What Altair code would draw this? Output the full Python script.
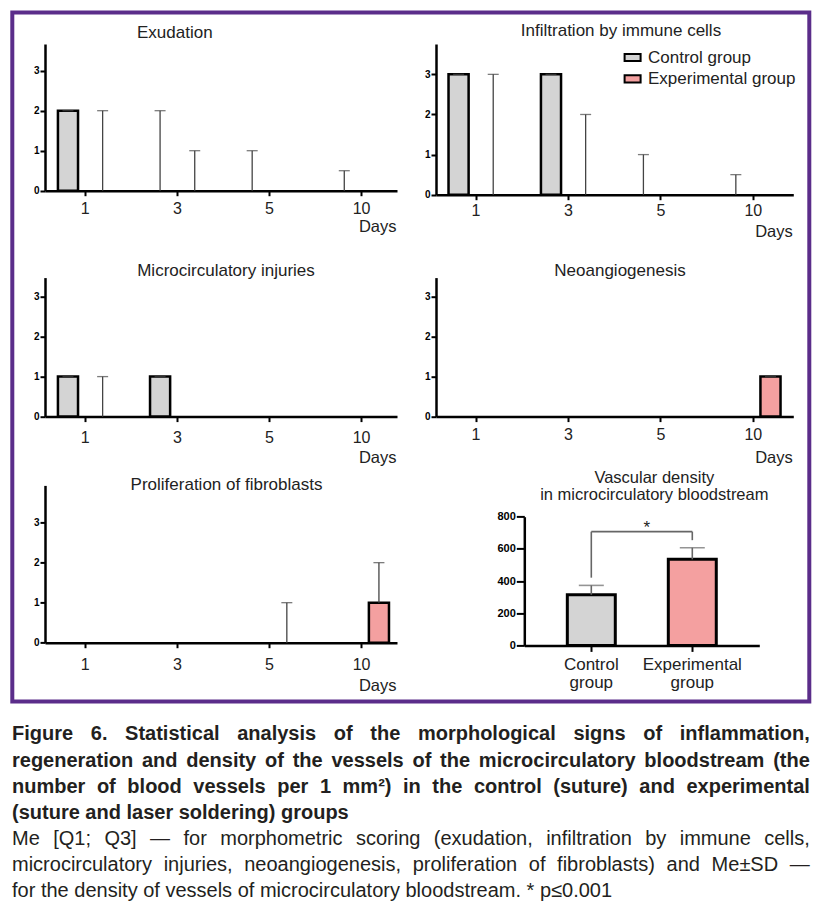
import altair as alt
import pandas as pd

DAYS = ["1", "3", "5", "10"]
GROUPS = ["Control group", "Experimental group"]
COLORS = ["#d4d4d4", "#f4a0a0"]

# Me and Q3 per day (1, 3, 5, 10)
exud_ctrl_me = [2, 0, 0, 0]
exud_ctrl_q3 = [2, 2, 1, 0.5]
exud_exp_me = [0, 0, 0, 0]
exud_exp_q3 = [2, 1, 0, 0]

infl_ctrl_me = [3, 3, 0, 0]
infl_ctrl_q3 = [3, 3, 1, 0.5]
infl_exp_me = [0, 0, 0, 0]
infl_exp_q3 = [3, 2, 0, 0]

micro_ctrl_me = [1, 1, 0, 0]
micro_ctrl_q3 = [1, 1, 0, 0]
micro_exp_me = [0, 0, 0, 0]
micro_exp_q3 = [1, 0, 0, 0]

neo_ctrl_me = [0, 0, 0, 0]
neo_ctrl_q3 = [0, 0, 0, 0]
neo_exp_me = [0, 0, 0, 1]
neo_exp_q3 = [0, 0, 0, 1]

prol_ctrl_me = [0, 0, 0, 0]
prol_ctrl_q3 = [0, 0, 0, 0]
prol_exp_me = [0, 0, 0, 1]
prol_exp_q3 = [0, 0, 1, 2]

# Vascular density (Me +- SD)
vd_mean = [315, 535]
vd_sd = [58, 72]
vd_bracket_low = [421, 654]
vd_bracket_top = 707
vd_star_y = 696

TITLES = ["Exudation", "Infiltration by immune cells", "Microcirculatory injuries",
          "Neoangiogenesis", "Proliferation of fibroblasts"]
VD_TITLE = ["Vascular density", "in microcirculatory bloodstream"]

CAPTION_BOLD = [
    "Figure 6. Statistical analysis of the morphological signs of inflammation,",
    "regeneration and density of the vessels of the microcirculatory bloodstream (the",
    "number of blood vessels per 1 mm\u00b2) in the control (suture) and experimental",
    "(suture and laser soldering) groups",
]
CAPTION_REG = [
    "Me [Q1; Q3] \u2014 for morphometric scoring (exudation, infiltration by immune cells,",
    "microcirculatory injuries, neoangiogenesis, proliferation of fibroblasts) and Me\u00b1SD \u2014",
    "for the density of vessels of microcirculatory bloodstream. * p\u22640.001",
]
JUSTIFY = [True, True, True, False, True, True, False]

TXT = "#222222"
FONT = "Liberation Sans"

# ---- Arial-compatible advance widths (per 1000 em) for justified caption ----
REG_W = {' ': 278, '!': 278, '(': 333, ')': 333, '*': 389, ',': 278, '-': 333, '.': 278,
         ':': 278, ';': 278, '[': 278, ']': 278, '\u2014': 1000, '\u00b1': 549, '\u2264': 549,
         '\u00b2': 333}
for ch in "0123456789":
    REG_W[ch] = 556
REG_W.update(dict(zip("ABCDEFGHIJKLMNOPQRSTUVWXYZ",
                      [667, 667, 722, 722, 667, 611, 778, 722, 278, 500, 667, 556, 833, 722, 778,
                       667, 778, 722, 667, 611, 722, 667, 944, 667, 667, 611])))
REG_W.update(dict(zip("abcdefghijklmnopqrstuvwxyz",
                      [556, 556, 500, 556, 556, 278, 556, 556, 222, 222, 500, 222, 833, 556, 556,
                       556, 556, 333, 500, 278, 556, 500, 722, 500, 500, 500])))
BOLD_W = {' ': 278, '(': 333, ')': 333, ',': 278, '.': 278, '\u00b2': 333, '-': 333}
for ch in "0123456789":
    BOLD_W[ch] = 556
BOLD_W.update(dict(zip("ABCDEFGHIJKLMNOPQRSTUVWXYZ",
                       [722, 722, 722, 722, 667, 611, 778, 722, 278, 556, 722, 611, 833, 722, 778,
                        667, 778, 722, 667, 611, 722, 667, 944, 667, 667, 611])))
BOLD_W.update(dict(zip("abcdefghijklmnopqrstuvwxyz",
                       [556, 611, 556, 611, 556, 333, 611, 611, 278, 278, 556, 278, 889, 611, 611,
                        611, 611, 389, 556, 333, 611, 556, 778, 556, 556, 500])))

CAP_FS = 20
CAP_LEFT = -33.0
CAP_WIDTH = 797.8
CAP_Y0 = 26.3
CAP_LH = 26.1


def text_width(s, table):
    return sum(table.get(c, 556) for c in s) * CAP_FS / 1000.0


cap_rows = []
all_lines = [(t, True) for t in CAPTION_BOLD] + [(t, False) for t in CAPTION_REG]
for li, (line, bold) in enumerate(all_lines):
    table = BOLD_W if bold else REG_W
    words = line.split(" ")
    widths = [text_width(w, table) for w in words]
    if JUSTIFY[li] and len(words) > 1:
        gap = (CAP_WIDTH - sum(widths)) / (len(words) - 1)
    else:
        gap = table[' '] * CAP_FS / 1000.0
    xpos = CAP_LEFT
    for w, wd in zip(words, widths):
        cap_rows.append({"w": w, "x": xpos, "y": CAP_Y0 + li * CAP_LH, "bold": bold})
        xpos += wd + gap
cap_df = pd.DataFrame(cap_rows)


def score_panel(idx, c_me, c_q3, e_me, e_q3, W, H, ymax, yoff, po, al, tx, ty, lab_l, days_y,
                legend=False):
    rows = []
    for i, d in enumerate(DAYS):
        rows.append({"day": d, "group": GROUPS[0], "me": c_me[i], "q3": c_q3[i]})
        rows.append({"day": d, "group": GROUPS[1], "me": e_me[i], "q3": e_q3[i]})
    df = pd.DataFrame(rows)
    xax = alt.Axis(title="Days", labelAngle=0, labelFontSize=16, labelColor=TXT,
                   labelBaseline="alphabetic", labelPadding=lab_l - 5, tickSize=5, tickWidth=2,
                   tickColor="black", domainColor="black", domainWidth=2.5, titleX=W - 1,
                   titleY=days_y, titleAlign="right", titleBaseline="alphabetic",
                   titleFontSize=16.5, titleFontWeight="normal", titleColor=TXT, grid=False)
    x = alt.X("day:N", sort=DAYS,
              scale=alt.Scale(domain=DAYS, paddingInner=0.24, paddingOuter=po, align=al),
              axis=xax)
    xo = alt.XOffset("group:N", sort=GROUPS,
                     scale=alt.Scale(domain=GROUPS, paddingInner=0.42, paddingOuter=0.22))
    yax = alt.Axis(title=None, values=[0, 1, 2, 3], labelFontWeight="bold", labelFontSize=10,
                   labelColor="black", labelPadding=1, tickSize=5, tickWidth=2,
                   tickColor="black", domainColor="black", domainWidth=2.5, grid=False)
    ysc = alt.Scale(domain=[0, ymax], range=[H, yoff], nice=False, zero=True)
    if legend:
        leg = alt.Legend(orient="none", legendX=187.6, legendY=4.5, title=None,
                         symbolType="M-1,-0.45L1,-0.45L1,0.45L-1,0.45Z", symbolSize=256,
                         symbolStrokeColor="black", symbolStrokeWidth=2, symbolOpacity=1,
                         labelFontSize=17, labelColor=TXT, labelOffset=6.4, rowPadding=4.4,
                         padding=0, labelLimit=400)
    else:
        leg = None
    base = alt.Chart(df)
    bars = base.mark_bar(stroke="black", strokeWidth=2.5).encode(
        x=x, xOffset=xo, y=alt.Y("me:Q", scale=ysc, axis=yax),
        color=alt.Color("group:N", scale=alt.Scale(domain=GROUPS, range=COLORS), legend=leg),
    ).transform_filter("datum.me > 0")
    rules = base.mark_rule(color="#444444", strokeWidth=1.3).encode(
        x=x, xOffset=xo, y=alt.Y("me:Q", scale=ysc, axis=yax), y2="q3:Q"
    ).transform_filter("datum.q3 > datum.me")
    caps = base.mark_tick(color="#444444", thickness=1.3, size=11).encode(
        x=x, xOffset=xo, y=alt.Y("q3:Q", scale=ysc, axis=yax)
    ).transform_filter("datum.q3 > 0")
    ttl = alt.Chart(alt.Data(values=[{"t": TITLES[idx]}])).mark_text(
        fontSize=17, color=TXT, align="center", baseline="alphabetic"
    ).encode(x=alt.value(tx), y=alt.value(ty), text="t:N")
    return alt.layer(bars, rules, caps, ttl).properties(width=W, height=H)


W1, W2 = 352, 357.3
p1 = score_panel(0, exud_ctrl_me, exud_ctrl_q3, exud_exp_me, exud_exp_q3, W1, 146.7, 3.667, 0,
                 0.031, 0.93, 129.8, -5.7, 22.3, 41)
p2 = score_panel(1, infl_ctrl_me, infl_ctrl_q3, infl_exp_me, infl_exp_q3, W2, 150.7, 3.757, 0,
                 0.053, 0.5, 185, -8.3, 21, 41.6, legend=True)
p3 = score_panel(2, micro_ctrl_me, micro_ctrl_q3, micro_exp_me, micro_exp_q3, W1, 152.9, 3.475,
                 13.9, 0.031, 0.93, 181, 12.3, 25.4, 46)
p4 = score_panel(3, neo_ctrl_me, neo_ctrl_q3, neo_exp_me, neo_exp_q3, W2, 152.9, 3.475, 13.9,
                 0.053, 0.5, 184, 12.3, 22.7, 46)
p5 = score_panel(4, prol_ctrl_me, prol_ctrl_q3, prol_exp_me, prol_exp_q3, W1, 157.3, 3.93, 0,
                 0.031, 0.93, 181.5, 4.7, 26.7, 47.4)

# ---- Vascular density panel ----
vd_df = pd.DataFrame({"group": GROUPS, "mean": vd_mean,
                      "upper": [m + s for m, s in zip(vd_mean, vd_sd)]})
H6 = 160
X6_SCALE = dict(domain=GROUPS, range=[88.3, 323.3], paddingInner=0.525, paddingOuter=0.426)
x6ax = alt.Axis(title=None, labelAngle=0, labelExpr="split(datum.label, ' ')", labelFontSize=17,
                labelLineHeight=18, labelColor=TXT, labelBaseline="top", labelPadding=5,
                tickSize=6, tickWidth=2, tickColor="black", domainColor="black", domainWidth=2.5,
                grid=False)
x6 = alt.X("group:N", sort=GROUPS, scale=alt.Scale(**X6_SCALE), axis=x6ax)
y6ax = alt.Axis(title=None, values=[0, 200, 400, 600, 800], offset=-88.3, labelFontWeight="bold",
                labelFontSize=11, labelColor="black", labelPadding=1, tickSize=8, tickWidth=2,
                tickColor="black", domainColor="black", domainWidth=2.5, grid=False)
y6sc = alt.Scale(domain=[0, 800], range=[H6, 31.3], nice=False)
b6 = alt.Chart(vd_df)
bars6 = b6.mark_bar(stroke="black", strokeWidth=3).encode(
    x=x6, y=alt.Y("mean:Q", scale=y6sc, axis=y6ax),
    color=alt.Color("group:N", scale=alt.Scale(domain=GROUPS, range=COLORS), legend=None))
err6 = b6.mark_rule(color="#666666", strokeWidth=1.6).encode(
    x=x6, y=alt.Y("mean:Q", scale=y6sc, axis=y6ax), y2="upper:Q")
cap6 = b6.mark_tick(color="#666666", thickness=1.6, size=25).encode(
    x=x6, y=alt.Y("upper:Q", scale=y6sc, axis=y6ax))
br_df = pd.DataFrame({"group": GROUPS, "low": vd_bracket_low, "top": [vd_bracket_top] * 2})
br_v = alt.Chart(br_df).mark_rule(color="#666666", strokeWidth=1.6).encode(
    x=x6, y=alt.Y("low:Q", scale=y6sc, axis=y6ax), y2="top:Q")
br_h = alt.Chart(alt.Data(values=[{"g1": GROUPS[0], "g2": GROUPS[1], "top": vd_bracket_top}])
                 ).mark_rule(color="#666666", strokeWidth=1.6).encode(
    x=alt.X("g1:N", sort=GROUPS, scale=alt.Scale(**X6_SCALE), axis=x6ax),
    x2="g2:N", y=alt.Y("top:Q", scale=y6sc, axis=y6ax))
star = alt.Chart(alt.Data(values=[{"g": GROUPS[0], "s": "*", "y": vd_star_y}])).mark_text(
    fontSize=17, color=TXT, dx=55.5, baseline="alphabetic").encode(
    x=alt.X("g:N", sort=GROUPS, scale=alt.Scale(**X6_SCALE), axis=x6ax),
    y=alt.Y("y:Q", scale=y6sc, axis=y6ax), text="s:N")
t6a = alt.Chart(alt.Data(values=[{"t": VD_TITLE[0]}])).mark_text(
    fontSize=16.5, color=TXT, align="center", baseline="alphabetic").encode(
    x=alt.value(218.3), y=alt.value(-2.3), text="t:N")
t6b = alt.Chart(alt.Data(values=[{"t": VD_TITLE[1]}])).mark_text(
    fontSize=16.5, color=TXT, align="center", baseline="alphabetic").encode(
    x=alt.value(218.3), y=alt.value(14.7), text="t:N")
p6 = alt.layer(bars6, err6, cap6, br_v, br_h, star, t6a, t6b).properties(width=W2, height=H6)

# ---- Caption + frame ----
frame = alt.Chart(alt.Data(values=[{}])).mark_rect(
    filled=False, stroke="#5b2d8a", strokeWidth=4).encode(
    x=alt.value(-32.7), x2=alt.value(764.3), y=alt.value(-701.7), y2=alt.value(-12.7))
cap_bold = alt.Chart(cap_df).mark_text(
    fontSize=CAP_FS, fontWeight="bold", color="#231f20", align="left", baseline="alphabetic"
).encode(x=alt.X("x:Q", scale=None, axis=None), y=alt.Y("y:Q", scale=None, axis=None),
         text="w:N").transform_filter("datum.bold")
cap_reg = alt.Chart(cap_df).mark_text(
    fontSize=CAP_FS, color="#231f20", align="left", baseline="alphabetic"
).encode(x=alt.X("x:Q", scale=None, axis=None), y=alt.Y("y:Q", scale=None, axis=None),
         text="w:N").transform_filter("!datum.bold")
caption = alt.layer(frame, cap_bold, cap_reg).properties(width=W1, height=190)

chart = alt.concat(
    p1, p2, p3, p4, p5, p6, caption, columns=2,
    spacing={"row": 68.7, "column": 39}, bounds="flush"
).resolve_scale(color="independent").resolve_legend(color="independent").properties(
    padding=2
).configure(font=FONT).configure_view(strokeWidth=0, stroke="transparent")

chart.save("out.html", embed_options={"renderer": "svg", "actions": False})
